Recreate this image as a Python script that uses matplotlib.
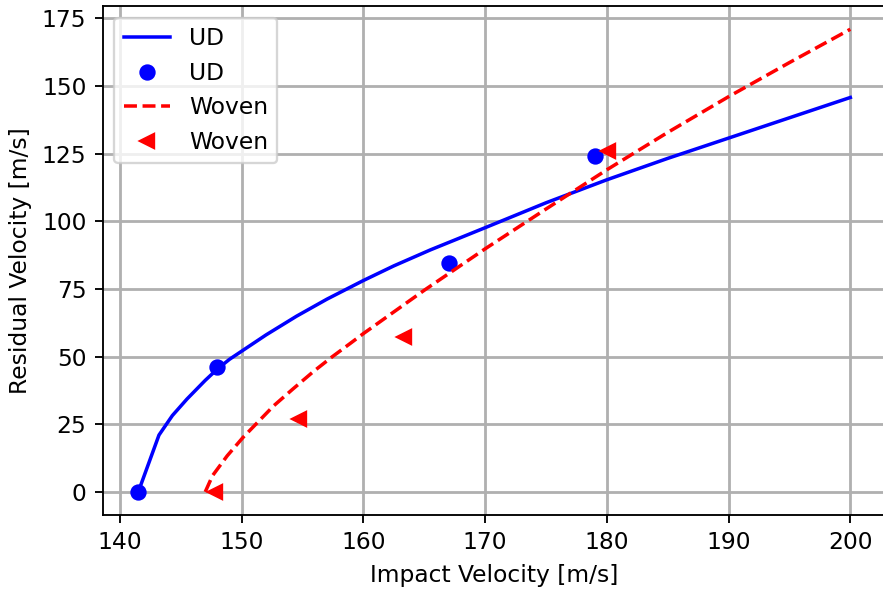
import matplotlib
matplotlib.use("Agg")
import matplotlib.pyplot as plt
import numpy as np

# fitted curves
ud_fit_v = [141.5, 143.2, 144.3, 145.5, 147.0, 148.0, 149.0, 150.0, 152.0, 154.5, 157.0,
            160.0, 162.5, 165.5, 170.0, 175.0, 180.0, 185.0, 190.0, 195.0, 200.0]
ud_fit_r = [0.0, 21.0, 28.2, 34.3, 41.2, 45.4, 49.0, 52.0, 58.0, 64.9, 71.2,
            78.1, 83.5, 89.4, 97.6, 106.8, 115.3, 123.2, 130.7, 138.2, 145.7]

woven_fit_v = [147.0, 147.6, 148.8, 150.1, 152.6, 154.2, 155.9, 157.4, 158.9, 160.0, 165.0,
               170.0, 175.0, 180.0, 185.0, 190.0, 195.0, 200.0]
woven_fit_r = [0.0, 6.0, 13.3, 20.1, 31.7, 38.0, 44.5, 49.8, 54.8, 58.5, 74.5,
               89.8, 104.5, 119.0, 132.8, 146.0, 158.6, 170.9]

# measured points
ud_v = [141.5, 148.0, 167.0, 179.0]
ud_r = [0.0, 46.0, 84.5, 124.0]

woven_v = [147.8, 154.7, 163.3, 180.1]
woven_r = [0.0, 26.8, 57.2, 125.8]

dpi = 168
fig = plt.figure(figsize=(883 / dpi, 589 / dpi), dpi=dpi)
ax = fig.add_axes([0.1163, 0.1256, 0.887, 0.864])

ax.plot(ud_fit_v, ud_fit_r, "b-", label="UD")
ax.plot(ud_v, ud_r, "bo", label="UD")
ax.plot(woven_fit_v, woven_fit_r, "r--", label="Woven")
ax.plot(woven_v, woven_r, "r<", label="Woven")

ax.set_xlabel("Impact Velocity [m/s]")
ax.set_ylabel("Residual Velocity [m/s]")
ax.set_yticks(np.arange(0, 176, 25))
ax.grid(True, lw=1.2)
ax.spines["right"].set_visible(False)  # cut off at the image edge in the original
ax.legend(loc="upper left")

fig.savefig("out.png", dpi=dpi)
